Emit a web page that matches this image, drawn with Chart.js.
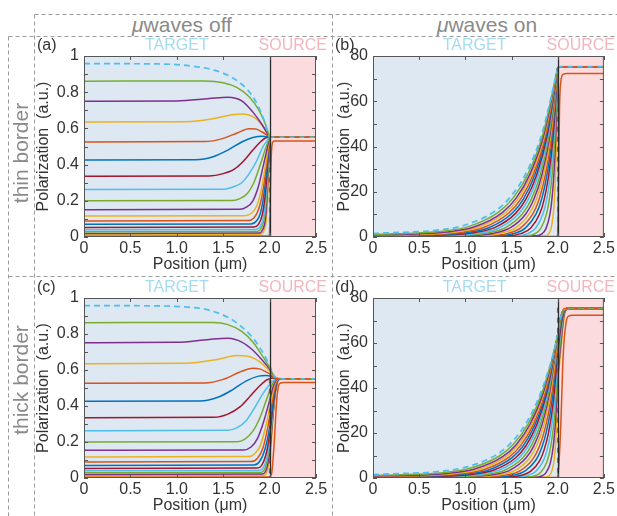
<!DOCTYPE html>
<html>
<head>
<meta charset="utf-8">
<script src="https://cdn.jsdelivr.net/npm/chart.js@4.4.0/dist/chart.umd.min.js"></script>
<style>
  body { margin: 0; width: 617px; height: 516px; position: relative; background: #fff; overflow: hidden;
         font-family: "Liberation Sans", Arial, sans-serif; }
  canvas { position: absolute; }
  .hdr { position: absolute; color: #8a8a8a; font-size: 21px; white-space: nowrap; transform: translate(-50%, -50%); }
  .row { position: absolute; color: #8a8a8a; font-size: 21px; white-space: nowrap; transform: translate(-50%, -50%) rotate(-90deg); }
</style>
</head>
<body>
<svg width="617" height="516" style="position:absolute;left:0;top:0">
  <path d="M34.5 14.5H617 M34.5 14.5V516 M332.5 14.5V516 M8.5 36.5H617 M8.5 36.5V516 M8.5 276.5H617"
        stroke="#9a9a9a" stroke-width="1" stroke-dasharray="4 3" fill="none"/>
</svg>
<canvas id="pa" width="330" height="237" style="left:0;top:38px"></canvas>
<canvas id="pb" width="287" height="237" style="left:330px;top:38px"></canvas>
<canvas id="pc" width="330" height="236" style="left:0;top:280px"></canvas>
<canvas id="pd" width="287" height="236" style="left:330px;top:280px"></canvas>
<span class="hdr" style="left:182px;top:25px"><i>μ</i>waves off</span>
<span class="hdr" style="left:487px;top:25px"><i>μ</i>waves on</span>
<span class="row" style="left:21px;top:153px">thin border</span>
<span class="row" style="left:21px;top:380px">thick border</span>
<script>
// Axis ticks
const xTickValues = [0, 0.5, 1, 1.5, 2, 2.5];
const xTickLabels = ['0', '0.5', '1.0', '1.5', '2.0', '2.5'];
const yTicksOff = [0, 0.2, 0.4, 0.6, 0.8, 1];
const yLabelsOff = ['0', '0.2', '0.4', '0.6', '0.8', '1'];
const yTicksOn = [0, 20, 40, 60, 80];
const yLabelsOn = ['0', '20', '40', '60', '80'];

// Regions (µm)
const targetSpan = [0, 2];
const sourceSpan = [2, 2.5];

// Polarization profiles, bottom curve first. Each entry is a list of [position, value].
// (a) thin border, microwaves off
const curvesA = [
  [[0, 0], [2.5, 0]],
  [[0, 0.006], [1.99, 0.006], [2.0, 0.02], [2.01, 0.3], [2.02, 0.47], [2.035, 0.525], [2.05, 0.53], [2.5, 0.53]],
  [[0, 0.013], [1.9, 0.015], [1.94, 0.035], [1.965, 0.1], [1.983, 0.27], [1.995, 0.45], [2.0, 0.551]],
  [[0, 0.02], [1.89, 0.022], [1.925, 0.04], [1.955, 0.1], [1.975, 0.24], [1.99, 0.42], [2.0, 0.551]],
  [[0, 0.029], [1.87, 0.031], [1.91, 0.05], [1.945, 0.11], [1.97, 0.24], [1.985, 0.4], [2.0, 0.551]],
  [[0, 0.04], [1.85, 0.042], [1.9, 0.06], [1.935, 0.11], [1.96, 0.22], [1.98, 0.38], [1.993, 0.5], [2.0, 0.551]],
  [[0, 0.053], [1.83, 0.055], [1.88, 0.07], [1.92, 0.12], [1.95, 0.22], [1.975, 0.37], [1.99, 0.49], [2.0, 0.551]],
  [[0, 0.07], [1.8, 0.072], [1.86, 0.09], [1.9, 0.13], [1.94, 0.24], [1.97, 0.38], [1.99, 0.5], [2.0, 0.551]],
  [[0, 0.089], [1.77, 0.091], [1.83, 0.105], [1.88, 0.15], [1.93, 0.26], [1.96, 0.38], [1.985, 0.49], [2.0, 0.551]],
  [[0, 0.116], [1.73, 0.118], [1.8, 0.13], [1.86, 0.17], [1.91, 0.26], [1.95, 0.38], [1.98, 0.48], [2.0, 0.551]],
  [[0, 0.151], [1.68, 0.153], [1.75, 0.165], [1.82, 0.2], [1.88, 0.28], [1.93, 0.39], [1.97, 0.48], [2.0, 0.551]],
  [[0, 0.2], [1.6, 0.202], [1.68, 0.212], [1.76, 0.24], [1.83, 0.3], [1.9, 0.4], [1.95, 0.48], [2.0, 0.551]],
  [[0, 0.262], [1.5, 0.264], [1.6, 0.275], [1.7, 0.3], [1.78, 0.35], [1.86, 0.42], [1.93, 0.5], [2.0, 0.551]],
  [[0, 0.335], [1.35, 0.337], [1.5, 0.35], [1.62, 0.375], [1.72, 0.42], [1.82, 0.48], [1.9, 0.525], [1.96, 0.548], [2.0, 0.551]],
  [[0, 0.425], [1.2, 0.427], [1.4, 0.445], [1.55, 0.48], [1.7, 0.525], [1.82, 0.55], [1.92, 0.557], [2.0, 0.551]],
  [[0, 0.525], [1.3, 0.527], [1.5, 0.545], [1.65, 0.575], [1.78, 0.598], [1.85, 0.597], [1.92, 0.58], [2.0, 0.551]],
  [[0, 0.635], [1.1, 0.637], [1.4, 0.655], [1.6, 0.676], [1.72, 0.68], [1.82, 0.665], [1.9, 0.63], [2.0, 0.551]],
  [[0, 0.75], [1.0, 0.752], [1.35, 0.765], [1.55, 0.772], [1.7, 0.752], [1.82, 0.69], [1.92, 0.62], [2.0, 0.551]],
  [[0, 0.861], [1.3, 0.862], [1.5, 0.852], [1.65, 0.825], [1.78, 0.775], [1.88, 0.705], [1.95, 0.63], [2.0, 0.551]],
  [[0, 0.958], [0.8, 0.956], [1.1, 0.948], [1.4, 0.922], [1.6, 0.88], [1.75, 0.82], [1.85, 0.75], [1.93, 0.66], [2.0, 0.551]]
];
const plateauA = [[2, 0.551], [2.5, 0.551]];
const initialA = [[0, 0], [2, 0], [2, 0.551], [2.5, 0.551]];

// (b) thin border, microwaves on
const curvesB = [
  [[0, 0], [2.5, 0]],
  [[0, 0.2], [1.99, 0.2], [2.0, 1], [2.01, 30], [2.02, 58], [2.035, 69], [2.06, 72], [2.1, 72.3], [2.5, 72.3]],
  [[0, 0.2], [1.868, 0.5], [1.904, 1.5], [1.928, 3.8], [1.952, 10.1], [1.964, 16.5], [1.976, 27.1], [1.988, 44.5], [2, 74.5]],
  [[0, 0.2], [1.769, 0.5], [1.832, 1.5], [1.874, 3.8], [1.916, 10.1], [1.937, 16.5], [1.958, 27.1], [1.979, 44.5], [2, 74.5]],
  [[0, 0.2], [1.665, 0.5], [1.756, 1.5], [1.817, 3.8], [1.878, 10.1], [1.909, 16.5], [1.939, 27.1], [1.97, 44.5], [2, 74.5]],
  [[0, 0.25], [1.56, 0.55], [1.68, 1.6], [1.76, 3.85], [1.84, 10.15], [1.88, 16.55], [1.92, 27.15], [1.96, 44.55], [2, 74.5]],
  [[0, 0.25], [1.461, 0.55], [1.608, 1.6], [1.706, 3.85], [1.804, 10.15], [1.853, 16.55], [1.902, 27.15], [1.951, 44.55], [2, 74.5]],
  [[0, 0.3], [1.357, 0.6], [1.532, 1.6], [1.649, 3.9], [1.766, 10.2], [1.825, 16.6], [1.883, 27.2], [1.942, 44.6], [2, 74.5]],
  [[0, 0.3], [1.258, 0.6], [1.46, 1.6], [1.595, 3.9], [1.73, 10.2], [1.798, 16.6], [1.865, 27.2], [1.933, 44.6], [2, 74.5]],
  [[0, 0.35], [1.153, 0.65], [1.384, 1.7], [1.538, 3.95], [1.692, 10.25], [1.769, 16.65], [1.846, 27.25], [1.923, 44.65], [2, 74.5]],
  [[0, 0.4], [1.054, 0.7], [1.312, 1.7], [1.484, 4.0], [1.656, 10.3], [1.742, 16.7], [1.828, 27.3], [1.914, 44.7], [2, 74.5]],
  [[0, 0.45], [0.955, 0.75], [1.24, 1.8], [1.43, 4.05], [1.62, 10.35], [1.715, 16.75], [1.81, 27.35], [1.905, 44.75], [2, 74.5]],
  [[0, 0.5], [0.845, 0.8], [1.16, 1.8], [1.37, 4.1], [1.58, 10.4], [1.685, 16.8], [1.79, 27.4], [1.895, 44.8], [2, 74.5]],
  [[0, 0.55], [0.746, 0.85], [1.088, 1.9], [1.316, 4.15], [1.544, 10.45], [1.658, 16.85], [1.772, 27.45], [1.886, 44.85], [2, 74.5]],
  [[0, 0.6], [0.642, 0.9], [1.012, 1.9], [1.259, 4.2], [1.506, 10.5], [1.63, 16.9], [1.753, 27.5], [1.877, 44.9], [2, 74.5]],
  [[0, 0.7], [0.543, 1.0], [0.94, 2.0], [1.205, 4.3], [1.47, 10.6], [1.603, 17.0], [1.735, 27.6], [1.868, 45.0], [2, 74.5]],
  [[0, 0.8], [0.438, 1.1], [0.864, 2.1], [1.148, 4.4], [1.432, 10.7], [1.574, 17.1], [1.716, 27.7], [1.858, 45.1], [2, 74.5]],
  [[0, 0.9], [0.35, 1.2], [0.8, 2.2], [1.1, 4.5], [1.4, 10.8], [1.55, 17.2], [1.7, 27.8], [1.85, 45.2], [2, 74.5]],
  [[0, 1.1], [0.24, 1.4], [0.72, 2.4], [1.04, 4.7], [1.36, 11.0], [1.52, 17.4], [1.68, 28.0], [1.84, 45.4], [2, 74.5]],
  [[0, 1.5], [0.13, 1.8], [0.64, 2.8], [0.98, 5.1], [1.32, 11.4], [1.49, 17.8], [1.66, 28.4], [1.83, 45.8], [2, 74.5]]
];
const plateauB = [[2, 74.5], [2.01, 75.1], [2.03, 75.3], [2.5, 75.3]];
const initialB = [[0, 0], [2, 0], [2, 75.3], [2.5, 75.3]];

// (c) thick border, microwaves off
const curvesC = [
  [[0, 0], [2.5, 0]],
  [[0, 0.006], [1.99, 0.006], [2.02, 0.02], [2.05, 0.2], [2.075, 0.42], [2.095, 0.51], [2.12, 0.528], [2.15, 0.53], [2.5, 0.53]],
  [[0, 0.013], [1.94, 0.015], [1.98, 0.05], [2.015, 0.18], [2.04, 0.36], [2.065, 0.48], [2.085, 0.53], [2.11, 0.549], [2.14, 0.551], [2.5, 0.551]],
  [[0, 0.02], [1.92, 0.022], [1.97, 0.055], [2.005, 0.16], [2.035, 0.34], [2.06, 0.47], [2.08, 0.525], [2.1, 0.548], [2.13, 0.551], [2.5, 0.551]],
  [[0, 0.029], [1.9, 0.031], [1.955, 0.06], [1.995, 0.16], [2.03, 0.33], [2.055, 0.46], [2.075, 0.52], [2.1, 0.548], [2.13, 0.551], [2.5, 0.551]],
  [[0, 0.04], [1.88, 0.042], [1.94, 0.065], [1.985, 0.15], [2.02, 0.3], [2.05, 0.44], [2.07, 0.51], [2.095, 0.545], [2.12, 0.551], [2.5, 0.551]],
  [[0, 0.053], [1.86, 0.055], [1.92, 0.075], [1.97, 0.15], [2.01, 0.28], [2.04, 0.41], [2.065, 0.5], [2.09, 0.545], [2.12, 0.551], [2.5, 0.551]],
  [[0, 0.07], [1.83, 0.072], [1.89, 0.09], [1.95, 0.16], [2.0, 0.28], [2.035, 0.41], [2.06, 0.5], [2.09, 0.545], [2.12, 0.551], [2.5, 0.551]],
  [[0, 0.089], [1.8, 0.091], [1.87, 0.11], [1.93, 0.17], [1.98, 0.28], [2.02, 0.4], [2.055, 0.5], [2.085, 0.545], [2.11, 0.551], [2.5, 0.551]],
  [[0, 0.117], [1.77, 0.119], [1.84, 0.135], [1.9, 0.18], [1.96, 0.29], [2.01, 0.41], [2.05, 0.51], [2.08, 0.545], [2.11, 0.551], [2.5, 0.551]],
  [[0, 0.154], [1.72, 0.156], [1.8, 0.172], [1.87, 0.22], [1.94, 0.32], [2.0, 0.43], [2.04, 0.51], [2.08, 0.548], [2.11, 0.551], [2.5, 0.551]],
  [[0, 0.2], [1.65, 0.202], [1.73, 0.215], [1.82, 0.26], [1.9, 0.34], [1.97, 0.44], [2.02, 0.51], [2.06, 0.545], [2.1, 0.551], [2.5, 0.551]],
  [[0, 0.263], [1.55, 0.265], [1.65, 0.28], [1.75, 0.32], [1.85, 0.4], [1.93, 0.47], [2.0, 0.52], [2.05, 0.545], [2.1, 0.551], [2.5, 0.551]],
  [[0, 0.335], [1.4, 0.337], [1.55, 0.355], [1.68, 0.395], [1.8, 0.46], [1.9, 0.515], [1.97, 0.545], [2.03, 0.556], [2.08, 0.552], [2.5, 0.551]],
  [[0, 0.426], [1.25, 0.428], [1.45, 0.45], [1.6, 0.49], [1.75, 0.54], [1.88, 0.566], [1.96, 0.57], [2.02, 0.565], [2.07, 0.553], [2.5, 0.551]],
  [[0, 0.526], [1.3, 0.528], [1.5, 0.548], [1.7, 0.593], [1.82, 0.61], [1.9, 0.605], [1.96, 0.59], [2.0, 0.58], [2.05, 0.56], [2.09, 0.552], [2.5, 0.551]],
  [[0, 0.635], [1.1, 0.637], [1.45, 0.66], [1.65, 0.68], [1.75, 0.678], [1.85, 0.66], [1.93, 0.63], [2.0, 0.595], [2.05, 0.562], [2.09, 0.552], [2.5, 0.551]],
  [[0, 0.752], [1.0, 0.754], [1.35, 0.77], [1.55, 0.776], [1.7, 0.755], [1.82, 0.71], [1.92, 0.655], [2.0, 0.605], [2.05, 0.565], [2.09, 0.552], [2.5, 0.551]],
  [[0, 0.863], [1.4, 0.864], [1.55, 0.852], [1.7, 0.815], [1.82, 0.755], [1.92, 0.68], [2.0, 0.615], [2.04, 0.572], [2.08, 0.553], [2.12, 0.551], [2.5, 0.551]],
  [[0, 0.958], [0.8, 0.956], [1.1, 0.95], [1.3, 0.938], [1.5, 0.905], [1.65, 0.86], [1.8, 0.79], [1.9, 0.72], [2.0, 0.625], [2.04, 0.575], [2.08, 0.553], [2.12, 0.551], [2.5, 0.551]]
];
const initialC = [[0, 0], [2, 0], [2, 0.551], [2.5, 0.551]];

// (d) thick border, microwaves on
const curvesD = [
  [[0, 0], [2.5, 0]],
  [[0, 0.2], [1.99, 0.2], [2.0, 0.5], [2.03, 20], [2.06, 55], [2.09, 69], [2.12, 72], [2.16, 72.3], [2.5, 72.3]],
  [[0, 0.2], [1.868, 0.36], [1.904, 0.93], [1.928, 2.2], [1.952, 5.6], [1.964, 9.1], [1.976, 14.8], [1.988, 24.4], [2, 40], [2.03, 55], [2.08, 73.5], [2.12, 75.3], [2.5, 75.3]],
  [[0, 0.2], [1.769, 0.38], [1.832, 1.0], [1.874, 2.4], [1.916, 6.1], [1.937, 10.0], [1.958, 16.3], [1.979, 26.8], [2, 44], [2.03, 58], [2.075, 73.5], [2.12, 75.3], [2.5, 75.3]],
  [[0, 0.2], [1.665, 0.4], [1.756, 1.07], [1.817, 2.6], [1.878, 6.7], [1.909, 10.9], [1.939, 17.8], [1.97, 29.2], [2, 48], [2.03, 61], [2.07, 73.5], [2.12, 75.3], [2.5, 75.3]],
  [[0, 0.25], [1.56, 0.46], [1.68, 1.2], [1.76, 2.85], [1.84, 7.25], [1.88, 11.8], [1.92, 19.3], [1.96, 31.7], [2, 52], [2.03, 64], [2.07, 73.8], [2.11, 75.3], [2.5, 75.3]],
  [[0, 0.25], [1.461, 0.48], [1.608, 1.25], [1.706, 2.95], [1.804, 7.65], [1.853, 12.5], [1.902, 20.4], [1.951, 33.5], [2, 55], [2.03, 66], [2.07, 74], [2.11, 75.3], [2.5, 75.3]],
  [[0, 0.3], [1.357, 0.54], [1.532, 1.36], [1.649, 3.2], [1.766, 8.1], [1.825, 13.2], [1.883, 21.5], [1.942, 35.3], [2, 58], [2.03, 68], [2.065, 74], [2.11, 75.3], [2.5, 75.3]],
  [[0, 0.3], [1.258, 0.55], [1.46, 1.4], [1.595, 3.3], [1.73, 8.4], [1.798, 13.6], [1.865, 22.3], [1.933, 36.5], [2, 60], [2.03, 69.5], [2.065, 74.3], [2.1, 75.3], [2.5, 75.3]],
  [[0, 0.35], [1.153, 0.6], [1.384, 1.5], [1.538, 3.4], [1.692, 8.7], [1.769, 14.1], [1.846, 23.0], [1.923, 37.8], [2, 62], [2.03, 70.5], [2.06, 74.3], [2.1, 75.3], [2.5, 75.3]],
  [[0, 0.4], [1.054, 0.66], [1.312, 1.54], [1.484, 3.5], [1.656, 8.85], [1.742, 14.3], [1.828, 23.4], [1.914, 38.3], [2, 63.5], [2.03, 71], [2.06, 74.5], [2.1, 75.3], [2.5, 75.3]],
  [[0, 0.45], [0.955, 0.7], [1.24, 1.6], [1.43, 3.55], [1.62, 8.9], [1.715, 14.35], [1.81, 23.45], [1.905, 38.35], [2, 63.5], [2.03, 71], [2.06, 74.5], [2.1, 75.3], [2.5, 75.3]],
  [[0, 0.5], [0.845, 0.76], [1.16, 1.64], [1.37, 3.6], [1.58, 8.95], [1.685, 14.4], [1.79, 23.5], [1.895, 38.4], [2, 63.5], [2.03, 71], [2.06, 74.5], [2.1, 75.3], [2.5, 75.3]],
  [[0, 0.55], [0.746, 0.8], [1.088, 1.7], [1.316, 3.65], [1.544, 9.0], [1.658, 14.45], [1.772, 23.55], [1.886, 38.45], [2, 63.5], [2.03, 71], [2.06, 74.5], [2.1, 75.3], [2.5, 75.3]],
  [[0, 0.6], [0.642, 0.86], [1.012, 1.74], [1.259, 3.7], [1.506, 9.05], [1.63, 14.5], [1.753, 23.6], [1.877, 38.5], [2, 63.5], [2.03, 71], [2.06, 74.5], [2.1, 75.3], [2.5, 75.3]],
  [[0, 0.7], [0.543, 0.96], [0.94, 1.84], [1.205, 3.8], [1.47, 9.15], [1.603, 14.6], [1.735, 23.7], [1.868, 38.6], [2, 63.5], [2.03, 71], [2.06, 74.5], [2.1, 75.3], [2.5, 75.3]],
  [[0, 0.8], [0.438, 1.06], [0.864, 1.94], [1.148, 3.9], [1.432, 9.25], [1.574, 14.7], [1.716, 23.8], [1.858, 38.7], [2, 63.5], [2.03, 71], [2.06, 74.5], [2.1, 75.3], [2.5, 75.3]],
  [[0, 0.9], [0.35, 1.16], [0.8, 2.04], [1.1, 4.0], [1.4, 9.35], [1.55, 14.8], [1.7, 23.9], [1.85, 38.8], [2, 63.5], [2.03, 71], [2.06, 74.5], [2.1, 75.3], [2.5, 75.3]],
  [[0, 1.1], [0.24, 1.36], [0.72, 2.24], [1.04, 4.2], [1.36, 9.55], [1.52, 15.0], [1.68, 24.1], [1.84, 39.0], [2, 63.5], [2.03, 71], [2.06, 74.5], [2.1, 75.3], [2.5, 75.3]],
  [[0, 1.5], [0.13, 1.76], [0.64, 2.64], [0.98, 4.6], [1.32, 9.95], [1.49, 15.4], [1.66, 24.5], [1.83, 39.4], [2, 63.5], [2.03, 71], [2.06, 74.5], [2.1, 75.3], [2.5, 75.3]]
];
const initialD = [[0, 0], [2, 0], [2, 75.3], [2.5, 75.3]];

// MATLAB default line colour order
const palette = ['#0072BD', '#D95319', '#EDB120', '#7E2F8E', '#77AC30', '#4DBEEE', '#A2142F'];

function labelFor(v, values, labels) {
  const k = values.findIndex(t => Math.abs(t - v) < 1e-6);
  return k < 0 ? '' : labels[k];
}

// curves that end at x=2 get the plateau appended after a break, so the corner stays sharp
function buildDatasets(curves, plateau, initial) {
  const last = curves.length - 1;
  const sets = curves.map((pts, i) => {
    const joins = plateau && i > 1 && pts[pts.length - 1][0] === sourceSpan[0];
    return {
      data: joins ? pts.concat([[sourceSpan[0], null]], plateau) : pts,
      borderColor: palette[i % palette.length],
      borderWidth: i === last ? 1.7 : 1.5,
      borderDash: i === last ? [6, 4] : [],
      cubicInterpolationMode: 'monotone',
      pointRadius: 0,
      spanGaps: false
    };
  });
  sets.push({
    data: initial,
    borderColor: palette[1],
    borderWidth: 1.5,
    borderDash: [5, 5],
    tension: 0,
    pointRadius: 0
  });
  // dataset 0 is painted last, so reverse to keep later curves on top
  return sets.reverse();
}

const panelDeco = {
  id: 'panelDeco',
  beforeDatasetsDraw(chart) {
    const { ctx, chartArea: a, scales: { x } } = chart;
    const xs = x.getPixelForValue(sourceSpan[0]);
    ctx.save();
    ctx.fillStyle = '#dde8f3';
    ctx.fillRect(a.left, a.top, xs - a.left, a.bottom - a.top);
    ctx.fillStyle = '#fbdbdd';
    ctx.fillRect(xs, a.top, a.right - xs, a.bottom - a.top);
    ctx.restore();
  },
  afterDatasetsDraw(chart) {
    const { ctx, chartArea: a, scales: { x, y } } = chart;
    ctx.save();
    // target / source boundary
    const xs = Math.round(x.getPixelForValue(sourceSpan[0])) + 0.5;
    ctx.strokeStyle = '#2a2a2a';
    ctx.lineWidth = 1.3;
    ctx.beginPath();
    ctx.moveTo(xs, a.top);
    ctx.lineTo(xs, a.bottom);
    ctx.stroke();
    // box and inward ticks on all four sides
    ctx.strokeStyle = '#555';
    ctx.lineWidth = 1;
    ctx.strokeRect(a.left + 0.5, a.top + 0.5, a.right - a.left - 1, a.bottom - a.top - 1);
    ctx.beginPath();
    x.ticks.forEach(t => {
      const px = Math.round(x.getPixelForValue(t.value)) + 0.5;
      ctx.moveTo(px, a.bottom); ctx.lineTo(px, a.bottom - 4);
      ctx.moveTo(px, a.top); ctx.lineTo(px, a.top + 4);
    });
    y.ticks.forEach(t => {
      const py = Math.round(y.getPixelForValue(t.value)) + 0.5;
      ctx.moveTo(a.left, py); ctx.lineTo(a.left + 4, py);
      ctx.moveTo(a.right, py); ctx.lineTo(a.right - 4, py);
    });
    ctx.stroke();
    ctx.restore();
  },
  afterDraw(chart, args, opts) {
    const { ctx, chartArea: a, scales: { x } } = chart;
    const ty = a.top - 10;
    ctx.save();
    ctx.textBaseline = 'middle';
    ctx.font = '16px "Liberation Sans", Arial, sans-serif';
    ctx.textAlign = 'center';
    ctx.fillStyle = '#a3dbf1';
    ctx.fillText('TARGET', x.getPixelForValue(opts.targetAt), ty);
    ctx.fillStyle = '#f5b5bd';
    ctx.fillText('SOURCE', x.getPixelForValue((sourceSpan[0] + sourceSpan[1]) / 2), ty);
    ctx.textAlign = 'left';
    ctx.fillStyle = '#333';
    ctx.font = '16px "Liberation Sans", Arial, sans-serif';
    ctx.fillText(opts.letter, opts.letterX, ty);
    ctx.restore();
  }
};

Chart.defaults.font.family = '"Liberation Sans", Arial, sans-serif';

function makePanel(id, cfg) {
  return new Chart(document.getElementById(id), {
    type: 'line',
    data: { datasets: buildDatasets(cfg.curves, cfg.plateau, cfg.initial) },
    options: {
      responsive: false,
      animation: false,
      devicePixelRatio: 1,
      layout: { padding: cfg.padding },
      plugins: {
        legend: { display: false },
        tooltip: { enabled: false },
        panelDeco: { letter: cfg.letter, letterX: cfg.letterX, targetAt: cfg.targetAt }
      },
      scales: {
        x: {
          type: 'linear', min: 0, max: 2.5,
          afterFit: s => { s.height = 38; },
          grid: { display: false, drawTicks: false },
          border: { display: false },
          ticks: {
            stepSize: 0.5, autoSkip: false, maxRotation: 0, padding: 2,
            color: '#333', font: { size: 16 },
            callback: v => labelFor(v, xTickValues, xTickLabels)
          },
          title: { display: true, text: 'Position (μm)', color: '#333', font: { size: 16 }, padding: { top: 0, bottom: 1 } }
        },
        y: {
          type: 'linear', min: 0, max: cfg.yMax,
          afterFit: s => { s.width = cfg.yWidth; },
          grid: { display: false, drawTicks: false },
          border: { display: false },
          ticks: {
            stepSize: cfg.yStep, autoSkip: false, padding: 5,
            color: '#333', font: { size: 16 },
            callback: v => labelFor(v, cfg.yTicks, cfg.yLabels)
          },
          title: { display: true, text: 'Polarization  (a.u.)', color: '#333', font: { size: 16 }, padding: { top: cfg.titlePad, bottom: 0 } }
        }
      }
    },
    plugins: [panelDeco]
  });
}

const offAxis = { yMax: 1, yStep: 0.1, yTicks: yTicksOff, yLabels: yLabelsOff, yWidth: 54, titlePad: 4,
                  padding: { left: 30, top: 18, right: 14, bottom: 0 }, letterX: 37, targetAt: 1.0 };
const onAxis = { yMax: 80, yStep: 10, yTicks: yTicksOn, yLabels: yLabelsOn, yWidth: 39, titlePad: 1,
                 padding: { left: 4, top: 18, right: 12, bottom: 0 }, letterX: 5, targetAt: 1.1 };

makePanel('pa', { ...offAxis, curves: curvesA, plateau: plateauA, initial: initialA, letter: '(a)' });
makePanel('pb', { ...onAxis, curves: curvesB, plateau: plateauB, initial: initialB, letter: '(b)' });
makePanel('pc', { ...offAxis, curves: curvesC, plateau: null, initial: initialC, letter: '(c)' });
makePanel('pd', { ...onAxis, curves: curvesD, plateau: null, initial: initialD, letter: '(d)' });
</script>
</body>
</html>
